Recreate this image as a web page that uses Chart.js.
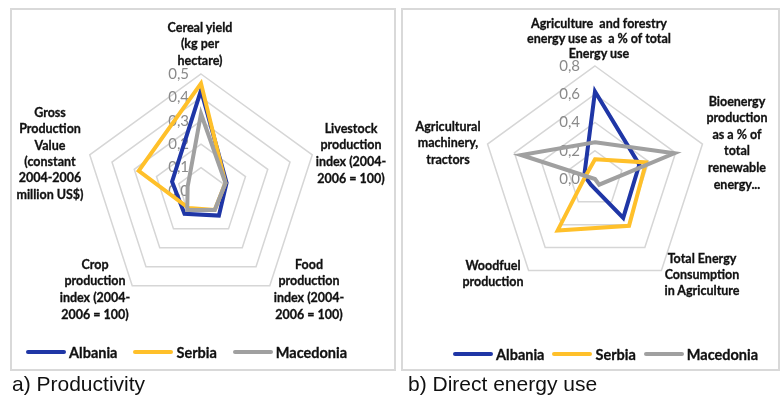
<!DOCTYPE html>
<html><head><meta charset="utf-8">
<script src="https://cdn.jsdelivr.net/npm/chart.js@4"></script>
<style>
html,body{margin:0;padding:0;background:#fff;}
body{width:782px;height:401px;position:relative;overflow:hidden;font-family:Lato,'Open Sans',sans-serif;}
.panel{position:absolute;box-sizing:border-box;border:2px solid #d9d9d9;}
canvas{position:absolute;}
.plab{position:absolute;transform:translateX(-50%);text-align:center;white-space:pre;font-weight:700;color:#111;font-size:12.5px;-webkit-text-stroke:0.3px #111;}
.legend{position:absolute;display:flex;align-items:center;height:18px;font-weight:700;font-size:14.5px;color:#111;white-space:nowrap;-webkit-text-stroke:0.3px #111;}
.legend .sw{width:40px;height:4px;border-radius:2px;margin-right:3px;}
.caption{position:absolute;font-family:'Liberation Sans',Arial,sans-serif;font-size:21px;line-height:21px;color:#111;white-space:nowrap;}
</style></head><body>
<div class="panel" style="left:10px;top:8px;width:386px;height:363px;"></div>
<div class="panel" style="left:401px;top:8px;width:379px;height:363px;"></div>
<canvas id="cA"></canvas>
<canvas id="cB"></canvas>
<div id="overlay"></div>
<div class="caption" style="left:12px;top:373px;">a) Productivity</div>
<div class="caption" style="left:408px;top:373px;">b) Direct energy use</div>
<script>
// ---- data ----
const seriesNames = ['Albania', 'Serbia', 'Macedonia'];

const catsA = [
  ['Cereal yield', '(kg per', 'hectare)'],
  ['Livestock', 'production', 'index (2004-', '2006 = 100)'],
  ['Food', 'production', 'index (2004-', '2006 = 100)'],
  ['Crop', 'production', 'index (2004-', '2006 = 100)'],
  ['Gross', 'Production', 'Value', '(constant', '2004-2006', 'million US$)']
];
const albaniaA   = [0.43, 0.115, 0.13, 0.12, 0.13];
const serbiaA    = [0.46, 0.11, 0.10, 0.09, 0.28];
const macedoniaA = [0.33, 0.11, 0.10, 0.10, 0.06];
const ticksA = ['0,0', '0,1', '0,2', '0,3', '0,4', '0,5'];

const catsB = [
  ['Agriculture  and forestry', 'energy use as  a % of total', 'Energy use'],
  ['Bioenergy', 'production', 'as a % of', 'total', 'renewable', 'energy...'],
  ['Total Energy', 'Consumption', 'in Agriculture'],
  ['Woodfuel', 'production'],
  ['Agricultural', 'machinery,', 'tractors']
];
const albaniaB   = [0.62, 0.33, 0.34, 0.05, 0.08];
const serbiaB    = [0.14, 0.38, 0.41, 0.45, 0.07];
const macedoniaB = [0.26, 0.59, 0.05, 0.00, 0.55];
const ticksB = ['0,0', '0,2', '0,4', '0,6', '0,8'];

// ---- styles / layout ----
const seriesColors = ['#1F36A6', '#FFC02A', '#A0A0A0'];

const layoutA = {
  canvas: {left: 0, top: 0, w: 400, h: 380},
  cx: 201, cy: 191, r: 117, max: 0.5, step: 0.1, tickGap: 12,
  labels: [
    {x: 200, y: 28, lh: 16.7},
    {x: 351, y: 129, lh: 16.7},
    {x: 309, y: 265, lh: 16.7},
    {x: 95, y: 265, lh: 16.7},
    {x: 50, y: 113, lh: 16.4}
  ],
  legend: {x: 26, y: 352, gap: 16}
};
const layoutB = {
  canvas: {left: 400, top: 0, w: 382, h: 380},
  cx: 595, cy: 179, r: 113, max: 0.8, step: 0.2, tickGap: 15,
  labels: [
    {x: 599, y: 23, lh: 15},
    {x: 737, y: 102, lh: 16.6},
    {x: 702, y: 259, lh: 16},
    {x: 493, y: 266, lh: 16},
    {x: 448, y: 127, lh: 16.5}
  ],
  legend: {x: 453, y: 354, gap: 8}
};

function makeChart(id, L, cats, series, tickLabels) {
  const cv = document.getElementById(id);
  cv.width = L.canvas.w; cv.height = L.canvas.h;
  cv.style.left = L.canvas.left + 'px'; cv.style.top = L.canvas.top + 'px';
  const lx = L.cx - L.canvas.left, ly = L.cy - L.canvas.top;
  const tickPlugin = {
    id: 'tickText',
    beforeDatasetsDraw(chart) {
      const s = chart.scales.r, ctx = chart.ctx;
      ctx.save();
      ctx.font = '15px Lato';
      ctx.fillStyle = '#8a8a8a';
      ctx.textAlign = 'right';
      ctx.textBaseline = 'middle';
      s.ticks.forEach((t, i) => {
        const d = s.getDistanceFromCenterForValue(t.value);
        ctx.fillText(tickLabels[i], s.xCenter - L.tickGap, s.yCenter - d);
      });
      ctx.restore();
    }
  };
  new Chart(cv, {
    type: 'radar',
    data: {
      labels: cats.map(c => c.join(' ')),
      datasets: series.map((vals, i) => ({
        label: seriesNames[i], data: vals,
        borderColor: seriesColors[i], backgroundColor: 'transparent',
        borderWidth: 4, pointRadius: 0, pointHoverRadius: 0,
        fill: false, tension: 0, order: 3 - i
      }))
    },
    options: {
      responsive: false, animation: false, events: [],
      layout: {padding: {left: lx - L.r, top: ly - L.r, right: L.canvas.w - (lx + L.r), bottom: L.canvas.h - (ly + L.r)}},
      plugins: {legend: {display: false}, tooltip: {enabled: false}},
      scales: {r: {
        min: 0, max: L.max,
        ticks: {display: false, stepSize: L.step},
        grid: {color: '#d6d6d6', lineWidth: 1.5},
        angleLines: {display: false},
        pointLabels: {display: false}
      }}
    },
    plugins: [tickPlugin]
  });

  const ov = document.getElementById('overlay');
  cats.forEach((lines, i) => {
    const p = L.labels[i];
    const d = document.createElement('div');
    d.className = 'plab';
    d.style.left = p.x + 'px';
    d.style.top = (p.y - p.lh / 2) + 'px';
    d.style.lineHeight = p.lh + 'px';
    d.textContent = lines.join('\n');
    ov.appendChild(d);
  });
  const lg = document.createElement('div');
  lg.className = 'legend';
  lg.style.left = L.legend.x + 'px';
  lg.style.top = (L.legend.y - 9) + 'px';
  seriesNames.forEach((n, i) => {
    const sw = document.createElement('span');
    sw.className = 'sw';
    sw.style.background = seriesColors[i];
    const tx = document.createElement('span');
    tx.textContent = n;
    if (i < seriesNames.length - 1) tx.style.marginRight = L.legend.gap + 'px';
    lg.appendChild(sw); lg.appendChild(tx);
  });
  ov.appendChild(lg);
}

makeChart('cA', layoutA, catsA, [albaniaA, serbiaA, macedoniaA], ticksA);
makeChart('cB', layoutB, catsB, [albaniaB, serbiaB, macedoniaB], ticksB);
</script>
</body></html>
